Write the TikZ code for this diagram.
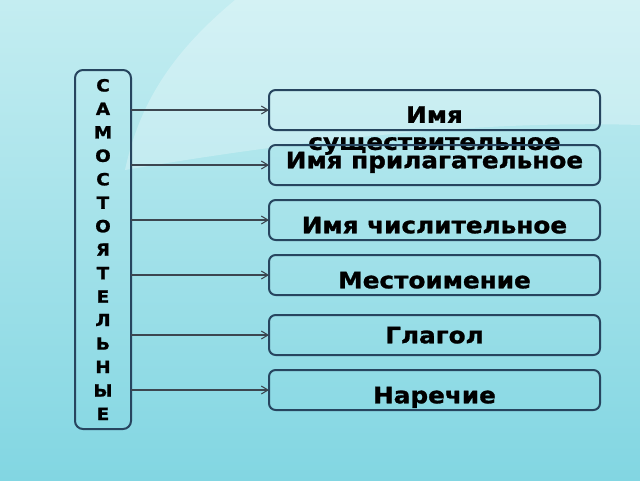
\documentclass[tikz,border=0pt]{standalone}
\usepackage{fontspec}
\usepackage{tikz}
\usetikzlibrary{arrows.meta, positioning}
\newfontfamily\dejavu{DejaVu Sans}[FakeStretch=1.09, BoldFeatures={FakeBold=1.2}]

\definecolor{boxline}{HTML}{27455F}
\definecolor{linkline}{HTML}{3C4650}
\definecolor{bgtop}{HTML}{C4EDF1}
\definecolor{bgbottom}{HTML}{82D6E2}

\tikzset {
    subject/.style = {
        draw = boxline,
        line width = 1.5pt,
        rounded corners = 6pt,
        outer sep = 0pt,
        minimum width = 42pt,
        minimum height = 269.25pt,
        align = center,
        font = {\dejavu\bfseries\fontsize{12.6}{17.6}\selectfont} % one letter per line
    },
    part/.style = {
        draw = boxline,
        line width = 1.5pt,
        rounded corners = 5pt,
        outer sep = 0pt,
        minimum width = 248.25pt,
        minimum height = 30pt
    },
    word/.style = {
        font = {\dejavu\bfseries\fontsize{17}{20.25}\selectfont},
        inner sep = 0pt
    },
    word line/.style = {
        word,
        text height = 12.4pt,
        text depth = 0pt
    },
    link/.style = {
        ->,
        >={Straight Barb[length=5pt, width=6pt]},
        line width = 0.8pt,
        draw = linkline
    }
}

\begin{document}
\begin{tikzpicture}[x=0.75pt, y=-0.75pt]
        % Background : gradient and a lighter sweep at the top right
        \shade [top color=bgtop, bottom color=bgbottom] (0,0) rectangle (640,480);
        \fill [white, opacity=0.28] (235,0) .. controls (175,50) and (140,100) .. (125,170)
              .. controls (300,140) and (480,120) .. (640,125) -- (640,0) -- cycle;
        \useasboundingbox (0,0) rectangle (640,480);

        % Left column : the vertical word
        \node [subject] at (103, 249.5)                         (subject)   {С\\А\\М\\О\\С\\Т\\О\\Я\\Т\\Е\\Л\\Ь\\Н\\Ы\\Е};

        % Right column : one box per part of speech
        \node [part, label={[word, align=center, yshift=-15.4pt]center:Имя\\существительное}]
              at (434.5, 110)                                   (noun)      {};
        \node [part, below=11.25pt of noun,
               label={[word line, yshift=3.75pt]center:Имя прилагательное}]   (adj)   {};
        \node [part, below=11.25pt of adj,
               label={[word line, yshift=-3.75pt]center:Имя числительное}]    (num)   {};
        \node [part, below=11.25pt of num,
               label={[word line, yshift=-3.75pt]center:Местоимение}]         (pron)  {};
        \node [part, below=15pt of pron,
               label={[word line]center:Глагол}]                              (verb)  {};
        \node [part, below=11.25pt of verb,
               label={[word line, yshift=-3.75pt]center:Наречие}]             (adv)   {};

        \draw [link]    (subject.east |- noun.west)     --  (noun.west);
        \draw [link]    (subject.east |- adj.west)      --  (adj.west);
        \draw [link]    (subject.east |- num.west)      --  (num.west);
        \draw [link]    (subject.east |- pron.west)     --  (pron.west);
        \draw [link]    (subject.east |- verb.west)     --  (verb.west);
        \draw [link]    (subject.east |- adv.west)      --  (adv.west);
\end{tikzpicture}
\end{document}
